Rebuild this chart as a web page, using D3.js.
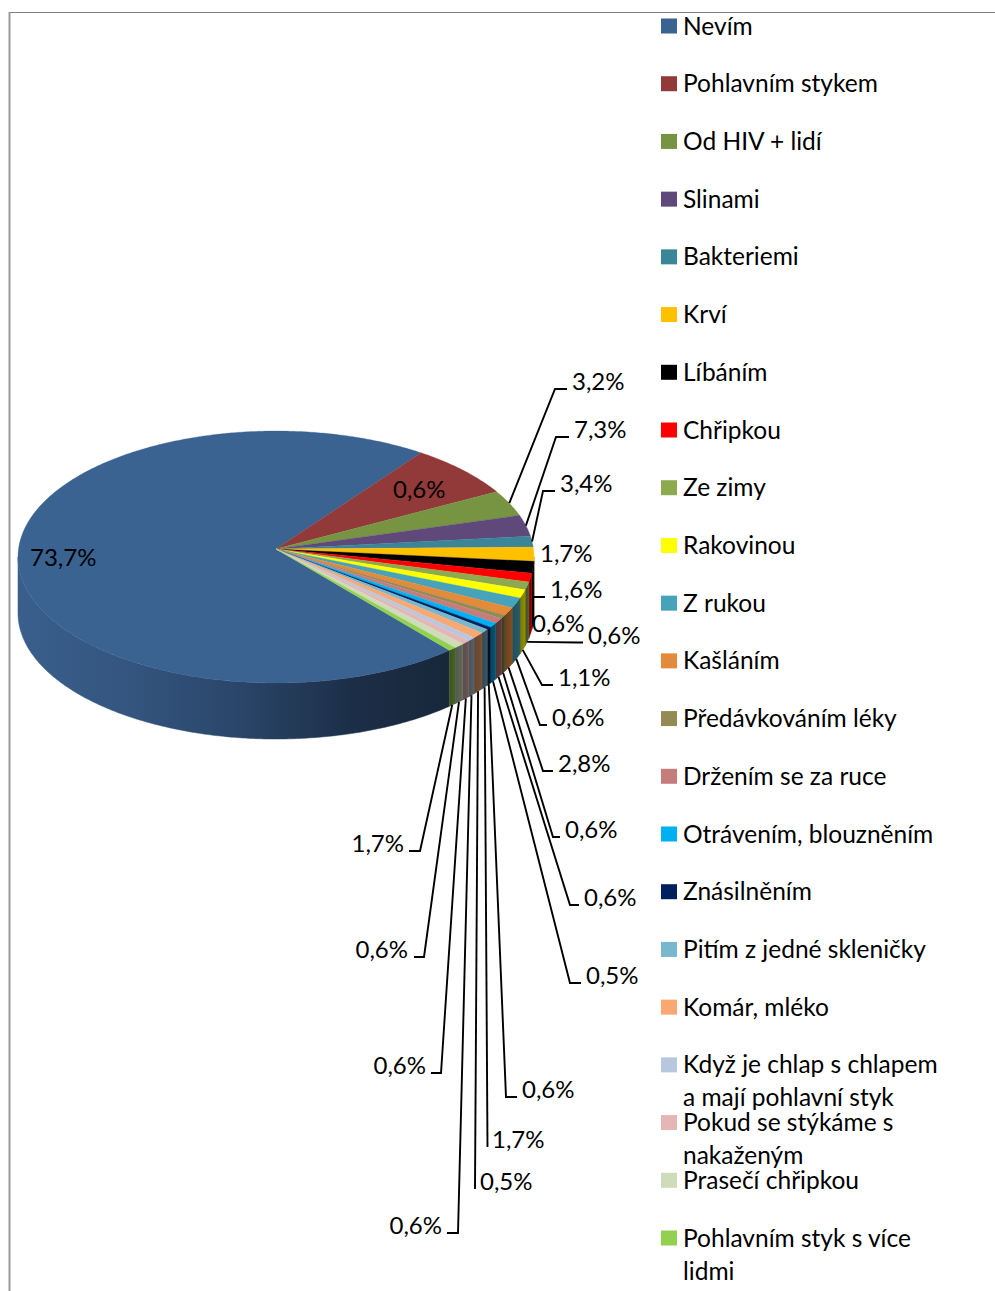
<!DOCTYPE html>
<html><head><meta charset="utf-8">
<script src="https://cdn.jsdelivr.net/npm/d3@7"></script>
<style>html,body{margin:0;padding:0;background:#fff}svg{display:block}text{font-family:Lato,"Open Sans",sans-serif;fill:#000}</style>
</head><body><div id="chart"></div>
<script>
const categories = ["Nevím","Pohlavním stykem","Od HIV + lidí","Slinami","Bakteriemi","Krví","Líbáním","Chřipkou","Ze zimy","Rakovinou","Z rukou","Kašláním","Předávkováním léky","Držením se za ruce","Otrávením, blouzněním","Znásilněním","Pitím z jedné skleničky","Komár, mléko","Když je chlap s chlapem a mají pohlavní styk","Pokud se stýkáme s nakaženým","Prasečí chřipkou","Pohlavním styk s více lidmi"];
// slice shares
const shares = [71.1,7.1,3.4,2.75,1.4,1.8,1.5,1.1,1.0,1.06,1.3,1.0,0.45,0.67,0.58,0.33,0.53,0.75,0.47,0.53,0.64,0.47];
// printed data labels, in series order
const dataLabels = ["73,7%","0,6%","3,2%","7,3%","3,4%","1,7%","1,6%","0,6%","0,6%","1,1%","0,6%","2,8%","0,6%","0,6%","0,5%","0,6%","1,7%","0,5%","0,6%","0,6%","0,6%","1,7%"];
const colors = ["#3A6391","#923A39","#779443","#5F497A","#3B8599","#FFC000","#000000","#FF0000","#8DAA4E","#FFFF00","#46A3BA","#E48A3B","#948A54","#C77C7C","#00B0F0","#002060","#78B7CD","#F9A871","#B8C7E0","#E4B7B6","#CFDCB9","#92D050"];
const legendLines = [["Nevím"],["Pohlavním stykem"],["Od HIV + lidí"],["Slinami"],["Bakteriemi"],["Krví"],["Líbáním"],["Chřipkou"],["Ze zimy"],["Rakovinou"],["Z rukou"],["Kašláním"],["Předávkováním léky"],["Držením se za ruce"],["Otrávením, blouzněním"],["Znásilněním"],["Pitím z jedné skleničky"],["Komár, mléko"],["Když je chlap s chlapem","a mají pohlavní styk"],["Pokud se stýkáme s","nakaženým"],["Prasečí chřipkou"],["Pohlavním styk s více","lidmi"]];

// --- layout only ---
const W=995,H=1291, FONT=24, LEGEND_FONT=24.5;
const apex={x:276,y:549}, RX=257.5, RY=125.5, PERSP=0.0635, DEPTH=56;
const START=140.2*Math.PI/180;
// manual placement of the data labels: text x, centre y, anchor, leader elbow [x,y] and stub end x (no e = no leader)
const labelPlaces=[
 {x:30,y:558,a:"start"},
 {x:393,y:490,a:"start"},
 {x:572,y:382,a:"start",e:[555,389],s:567,top:true},
 {x:574,y:430,a:"start",e:[556,437],s:569,top:true},
 {x:560,y:484,a:"start",e:[543,491],s:555,top:true},
 {x:540,y:554,a:"start"},
 {x:550,y:590,a:"start",e:[533,597],s:545},
 {x:532,y:624,a:"start"},
 {x:588,y:636,a:"start",e:[578,642.5],s:583},
 {x:558,y:678,a:"start",e:[542,685],s:553},
 {x:552,y:718,a:"start",e:[540,725],s:547},
 {x:558,y:764,a:"start",e:[543,771],s:553},
 {x:565,y:830,a:"start",e:[553,837],s:560},
 {x:584,y:898,a:"start",e:[570,905],s:579},
 {x:586,y:976,a:"start",e:[570,983],s:581},
 {x:522,y:1090,a:"start",e:[506,1097],s:517},
 {x:492,y:1140,a:"start",e:[487.5,1147],s:487.5},
 {x:480,y:1182,a:"start",e:[475,1189],s:475},
 {x:442,y:1226,a:"end",e:[458,1233],s:447},
 {x:426,y:1066,a:"end",e:[441,1073],s:431},
 {x:408,y:950,a:"end",e:[424,957],s:414},
 {x:404,y:844,a:"end",e:[420,851],s:409}
];

const svg=d3.select("#chart").append("svg").attr("width",W).attr("height",H);
const defs=svg.append("defs");

// frame
svg.append("line").attr("x1",9).attr("x2",W).attr("y1",12.5).attr("y2",12.5).attr("stroke","#808080");
svg.append("line").attr("x1",9.5).attr("x2",9.5).attr("y1",12).attr("y2",H).attr("stroke","#9a9a9a").attr("stroke-width",2);

// projection of the tilted disc via d3 scales
const sx=d3.scaleLinear().domain([-1,1]).range([apex.x-RX,apex.x+RX]);
const sy=d3.scaleLinear().domain([-1,1]).range([apex.y+RY,apex.y-RY]);
function proj(a,dy=0){const u=Math.sin(a),v=Math.cos(a),w=1+PERSP*v;return [sx(u/w),sy(v/w)+dy];}
function arcPts(a0,a1,dy=0){const n=Math.max(2,Math.ceil((a1-a0)/0.01));return d3.range(n+1).map(i=>proj(a0+(a1-a0)*i/n,dy));}
const line=d3.line();

const arcs=d3.pie().sort(null).startAngle(START).endAngle(START+2*Math.PI)(shares);

// front wall visible range
const WALL0=93.6*Math.PI/180, WALL1=266.4*Math.PI/180;
const wallG=svg.append("g"), topG=svg.append("g"), leadG=svg.append("g"), labG=svg.append("g");

arcs.forEach((d,i)=>{
  const a0=Math.max(d.startAngle,WALL0), a1=Math.min(d.endAngle,WALL1);
  const b0=Math.max(d.startAngle-2*Math.PI,WALL0), b1=Math.min(d.endAngle-2*Math.PI,WALL1);
  const [p0,p1]= a1>a0 ? [a0,a1] : [b0,b1];
  if(p1<=p0) return;
  const pts=[...arcPts(p0,p1),...arcPts(p0,p1,DEPTH).reverse()];
  const id="w"+i, c=d3.color(colors[i]);
  const g=defs.append("linearGradient").attr("id",id).attr("gradientUnits","userSpaceOnUse")
    .attr("x1",proj(p0)[0]).attr("x2",proj(p1)[0]).attr("y1",0).attr("y2",0);
  if(i===0){
    [[0,"#18273a"],[0.23,"#1c2f48"],[0.48,"#2a4568"],[0.74,"#33557f"],[1,"#3a5f8c"]].forEach(s=>g.append("stop").attr("offset",s[0]).attr("stop-color",s[1]));
  } else {
    const shade=t=>{const h=d3.rgb(c);return d3.rgb(h.r*t,h.g*t,h.b*t).formatHex();};
    const t=i<12?0.52:0.44;
    g.append("stop").attr("offset",0).attr("stop-color",shade(t*1.08));
    g.append("stop").attr("offset",1).attr("stop-color",shade(t*0.92));
  }
  wallG.append("path").attr("d",line(pts)+"Z").attr("fill",`url(#${id})`).attr("stroke",`url(#${id})`).attr("stroke-width",0.5);
});

arcs.forEach((d,i)=>{
  const pts=[[apex.x,apex.y],...arcPts(d.startAngle,d.endAngle)];
  topG.append("path").attr("d",line(pts)+"Z").attr("fill",colors[i]).attr("stroke",colors[i]).attr("stroke-width",0.3);
});

// leaders and labels
arcs.forEach((d,i)=>{
  const p=labelPlaces[i];
  if(p.e){
    const mid=(d.startAngle+d.endAngle)/2;
    const o=proj(mid,p.top?0:DEPTH);
    leadG.append("path").attr("d",line([o,p.e,[p.s,p.e[1]]])).attr("fill","none").attr("stroke","#000").attr("stroke-width",1.9);
  }
  labG.append("text").attr("x",p.x).attr("y",p.y).attr("dy","0.35em").attr("text-anchor",p.a).attr("font-size",FONT).text(dataLabels[i]);
});

// legend
const ly=d3.scaleLinear().domain([0,categories.length-1]).range([26,1238]);
const leg=svg.append("g").selectAll("g").data(categories).join("g").attr("transform",(d,i)=>`translate(661,${ly(i)})`);
leg.append("rect").attr("x",0).attr("y",-7.5).attr("width",16).attr("height",15).attr("fill",(d,i)=>colors[i]);
leg.each(function(d,i){
  legendLines[i].forEach((t,j)=>d3.select(this).append("text").attr("x",22).attr("y",j*33+0.5).attr("dy","0.33em").attr("font-size",LEGEND_FONT).text(t));
});
</script></body></html>
